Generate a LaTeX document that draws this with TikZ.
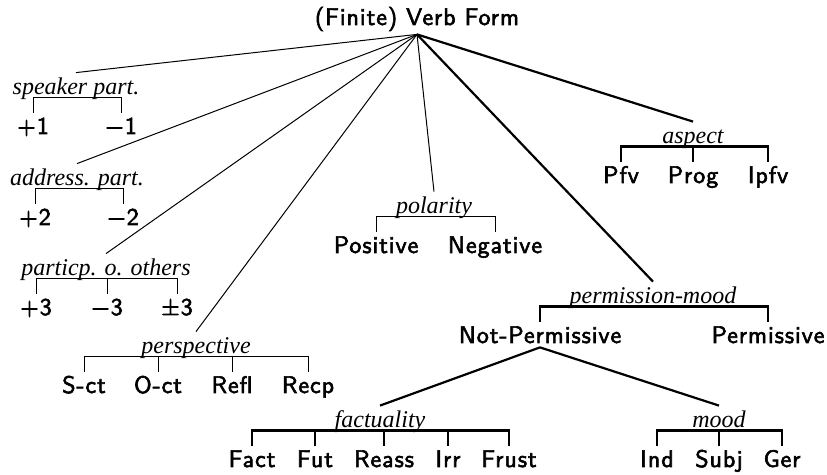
\documentclass[tikz,border=0pt]{standalone}
\usepackage{fontspec}
\newfontfamily\labfont{Liberation Serif}
\newfontfamily\termfont{lmsans10-regular.otf}[FakeBold=2.5,LetterSpace=4]
\begin{document}
\begin{tikzpicture}[x=0.5pt,y=-0.5pt,
  term/.style={anchor=base, inner sep=2pt, text height=8.5pt, text depth=0pt,
    font=\termfont\fontsize{12}{14}\selectfont},
  lab/.style={anchor=base, inner sep=3pt, text height=8pt, text depth=0pt,
    font=\labfont\itshape\fontsize{12}{14}\selectfont},
  light/.style={line width=0.5pt},
  heavy/.style={line width=1.1pt}]
\useasboundingbox (0,0) rectangle (827,475);

% root
\node[term, text depth=2.5pt] (root) at (417,25) {(Finite) Verb Form};

% speaker part
\node[lab] (spk) at (76,95) {speaker part.};
\node[term] (s1) at (33,134) {+1};
\node[term] (s2) at (121,134) {−1};
\draw[light] (s1.north) -- ++(0,-15) -| (s2.north);

% address part
\node[lab] (adr) at (77,186) {address. part.};
\node[term] (a1) at (35,225) {+2};
\node[term] (a2) at (123,225) {−2};
\draw[light] (a1.north) -- ++(0,-15) -| (a2.north);

% particp. o. others
\node[lab] (par) at (106,276) {particp. o. others};
\node[term] (p1) at (36,315) {+3};
\node[term] (p2) at (107,315) {−3};
\node[term] (p3) at (177,315) {±3};
\draw[light] (p1.north) -- ++(0,-15) -| (p3.north);
\draw[light] (p2.north) -- ++(0,-15);

% perspective
\node[lab] (per) at (196,354) {perspective};
\node[term] (q1) at (84,393) {S-ct};
\node[term] (q2) at (158,393) {O-ct};
\node[term] (q3) at (232,393) {Refl};
\node[term] (q4) at (308,393) {Recp};
\draw[light] (q1.north) -- ++(0,-15) -| (q4.north);
\draw[light] (q2.north) -- ++(0,-15);
\draw[light] (q3.north) -- ++(0,-15);

% polarity
\node[lab] (pol) at (434,214) {polarity};
\node[term] (o1) at (376,253) {Positive};
\node[term] (o2) at (495,253) {Negative};
\draw[light] (o1.north) -- ++(0,-15) -| (o2.north);

% aspect
\node[lab] (asp) at (693,144) {aspect};
\node[term] (t1) at (621,183) {Pfv};
\node[term] (t2) at (693,183) {Prog};
\node[term] (t3) at (768,183) {Ipfv};
\draw[heavy] (t1.north) -- ++(0,-15) -| (t3.north);
\draw[heavy] (t2.north) -- ++(0,-15);

% permission-mood
\node[lab] (prm) at (653,304) {permission-mood};
\node[term] (np) at (540,343) {Not-Permissive};
\node[term] (pm) at (768,343) {Permissive};
\draw[heavy] (np.north) -- ++(0,-15) -| (pm.north);

% factuality
\node[lab] (fac) at (380,428) {factuality};
\node[term] (f1) at (252,467) {Fact};
\node[term] (f2) at (315,467) {Fut};
\node[term] (f3) at (384,467) {Reass};
\node[term] (f4) at (448,467) {Irr};
\node[term] (f5) at (509,467) {Frust};
\draw[heavy] (f1.north) -- ++(0,-15) -| (f5.north);
\foreach \n in {f2,f3,f4} \draw[heavy] (\n.north) -- ++(0,-15);

% mood
\node[lab] (moo) at (719,428) {mood};
\node[term] (m1) at (657,467) {Ind};
\node[term] (m2) at (719,467) {Subj};
\node[term] (m3) at (782,467) {Ger};
\draw[heavy] (m1.north) -- ++(0,-15) -| (m3.north);
\draw[heavy] (m2.north) -- ++(0,-15);

% edges
\foreach \n in {spk,adr,par,per,pol} \draw[light] (root.south) -- (\n.north);
\draw[heavy] (root.south) -- (asp.north);
\draw[heavy] (root.south) -- (prm.north);
\draw[heavy] (np.south) -- (fac.north);
\draw[heavy] (np.south) -- (moo.north);
\end{tikzpicture}
\end{document}
